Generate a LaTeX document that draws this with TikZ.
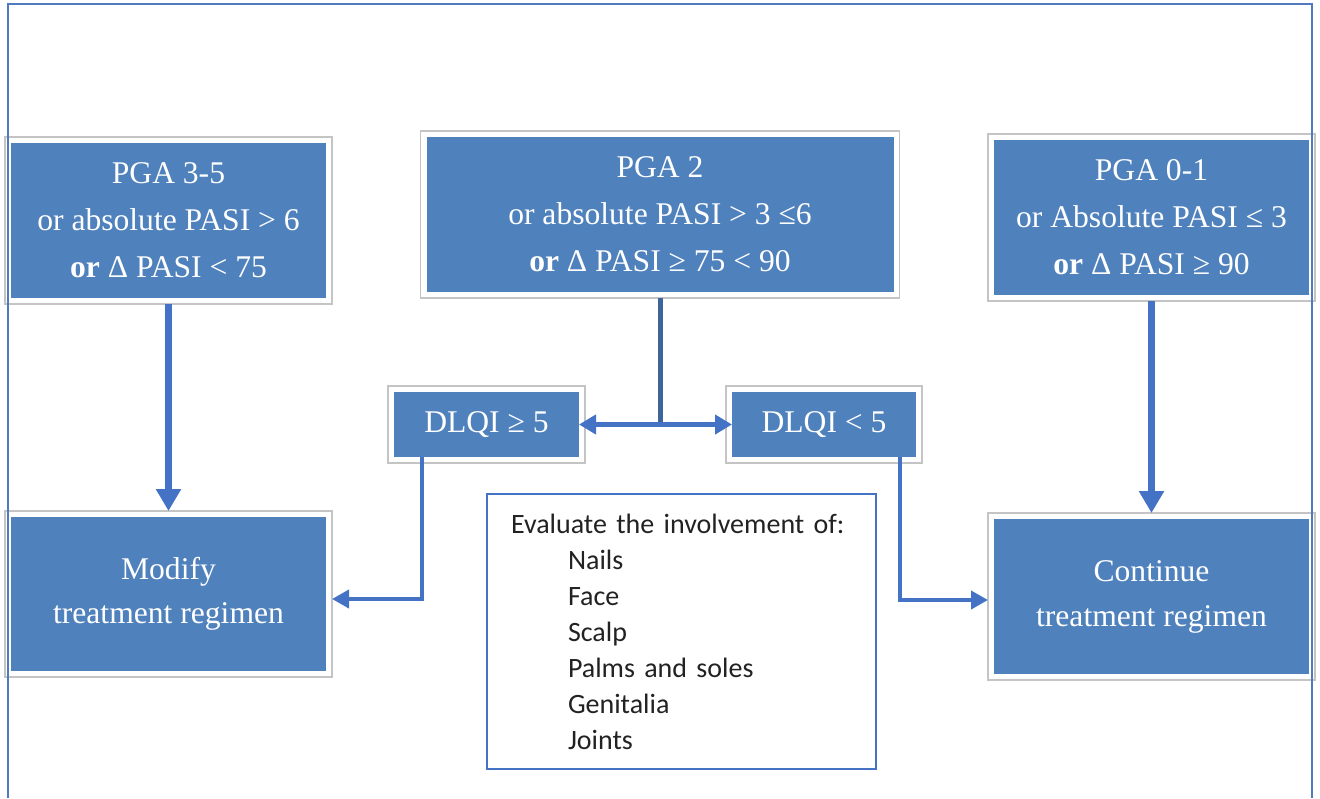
\documentclass[tikz,border=0pt]{standalone}
\usepackage{fontspec}
\setmainfont{Liberation Serif}
\newfontfamily\calib{Carlito}
\usetikzlibrary{arrows.meta}
\definecolor{boxblue}{HTML}{4F81BD}
\definecolor{graybd}{HTML}{C4C4C4}
\definecolor{arrblue}{HTML}{4472C4}
\definecolor{trunkblue}{HTML}{3E659B}
\definecolor{frameblue}{HTML}{5079C0}
\definecolor{evaltext}{HTML}{222222}
\begin{document}
\begin{tikzpicture}[x=1pt,y=-1pt,
  bluebox/.style={rectangle, fill=boxblue, text=white, outer sep=6pt, inner sep=0pt,
    align=center, font=\fontsize{31.6}{47}\selectfont},
  graybox/.style={draw=graybd, line width=1.2pt},
  thickarr/.style={draw=arrblue, line width=6.5pt, -{Triangle[width=24pt,length=22pt]}},
  thinarr/.style={draw=arrblue, line width=4pt, -{Triangle[width=18pt,length=17pt]}},
  midarr/.style={draw=arrblue, line width=5pt, -{Triangle[width=19pt,length=17pt]}},
  trunkline/.style={draw=trunkblue, line width=5pt},
  evalbox/.style={draw=arrblue, line width=2.5pt, fill=white, text=evaltext, align=left,
    text width=341pt, inner xsep=24pt, inner ysep=0pt, minimum height=275pt,
    font=\calib\fontsize{28}{36}\selectfont}]
\useasboundingbox (0,0) rectangle (1320,798);

% boxes
\node[bluebox, minimum width=315pt, minimum height=155pt] (b1) at (168.5,220.5)
  {PGA 3-5\\or absolute PASI > 6\\\textbf{or} Δ PASI < 75};
\node[bluebox, minimum width=467pt, minimum height=155pt] (b2) at (660,214.5)
  {PGA 2\\or absolute PASI > 3 ≤6\\\textbf{or} Δ PASI ≥ 75 < 90};
\node[bluebox, minimum width=315pt, minimum height=155pt] (b3) at (1151.5,217.5)
  {PGA 0-1\\or Absolute PASI ≤ 3\\\textbf{or} Δ PASI ≥ 90};
\node[bluebox, minimum width=315pt, minimum height=154pt, font=\fontsize{31.6}{44}\selectfont] (b4) at (168.5,594)
  {\raisebox{-2pt}{Modify}\\\raisebox{-2pt}{treatment regimen}};
\node[bluebox, minimum width=315pt, minimum height=155pt, font=\fontsize{31.6}{45}\selectfont] (b5) at (1151.5,596.5)
  {\raisebox{-3pt}{Continue}\\\raisebox{-3pt}{treatment regimen}};
\node[bluebox, minimum width=185pt, minimum height=65pt] (d1) at (486.5,424.5) {DLQI ≥ 5};
\node[bluebox, minimum width=184pt, minimum height=65pt] (d2) at (824,424.5) {DLQI < 5};

\foreach \n in {b1,b2,b3,b4,b5,d1,d2}
  \draw[graybox] (\n.north west) rectangle (\n.south east);

% evaluation box
\node[evalbox] (ev) at (681.5,631.5)
  {Evaluate the involvement of:\\
   \hspace*{57pt}Nails\\
   \hspace*{57pt}Face\\
   \hspace*{57pt}Scalp\\
   \hspace*{57pt}Palms and soles\\
   \hspace*{57pt}Genitalia\\
   \hspace*{57pt}Joints};

% connectors
\draw[thickarr] (b1.south) -- (b4.north);
\draw[thickarr] (b3.south) -- (b5.north);
\coordinate (split) at (b2.south |- d1.east);
\draw[trunkline] (b2.south) -- ([yshift=-2.5pt]split);
\draw[midarr] ([xshift=2.5pt]split) -- ([xshift=-6pt]d1.east);
\draw[midarr] ([xshift=-2.5pt]split) -- ([xshift=6pt]d2.west);
\draw[thinarr] ([xshift=-64.5pt,yshift=6pt]d1.south) |- ([yshift=-5pt]b4.east);
\draw[thinarr] ([xshift=76pt,yshift=6pt]d2.south) |- ([yshift=-3.5pt]b5.west);

% outer frame
\draw[frameblue, line width=1.5pt] (8,798) -- (8,4) -- (1312,4) -- (1312,798);
\end{tikzpicture}
\end{document}
